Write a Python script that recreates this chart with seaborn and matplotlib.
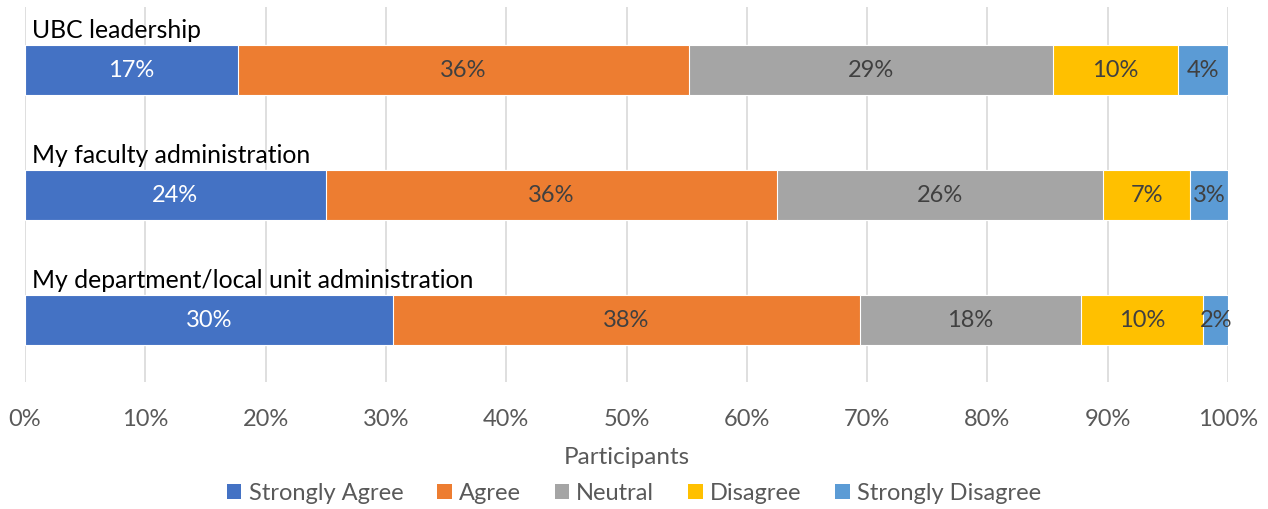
import matplotlib
matplotlib.use("Agg")
import matplotlib.pyplot as plt
from matplotlib.patches import Patch
import numpy as np
import pandas as pd
import seaborn as sns

# Survey responses (percent of participants, as reported)
groups = ["UBC leadership", "My faculty administration",
          "My department/local unit administration"]
responses = ["Strongly Agree", "Agree", "Neutral", "Disagree", "Strongly Disagree"]
strongly_agree = [17, 24, 30]
agree = [36, 36, 38]
neutral = [29, 26, 18]
disagree = [10, 7, 10]
strongly_disagree = [4, 3, 2]
tick_labels = ["0%", "10%", "20%", "30%", "40%", "50%", "60%", "70%", "80%", "90%", "100%"]

palette = ["#4472C4", "#ED7D31", "#A5A5A5", "#FFC000", "#5B9BD5"]
label_colors = ["white", "#404040", "#404040", "#404040", "#404040"]

values = np.array([strongly_agree, agree, neutral, disagree, strongly_disagree], dtype=float)
shares = values / values.sum(axis=0) * 100  # 100% stacked
cum = np.cumsum(shares, axis=0)

sns.set_theme(style="white")
plt.rcParams["font.family"] = ["Lato", "DejaVu Sans"]

fig = plt.figure(figsize=(12.68, 5.10), dpi=100)
ax = fig.add_axes([25 / 1268, 1 - 383 / 510, (1228 - 25) / 1268, (383 - 8) / 510])

# Stacked bars: draw cumulative totals from the outermost segment inward
for k in range(len(responses) - 1, -1, -1):
    df = pd.DataFrame({"group": groups, "total": cum[k]})
    sns.barplot(data=df, x="total", y="group", order=groups, orient="h",
                color=palette[k], saturation=1, width=0.4,
                edgecolor="white", linewidth=0.8, ax=ax, zorder=2)

# Segment value labels
for k in range(len(responses)):
    for i in range(len(groups)):
        left = cum[k, i] - shares[k, i]
        ax.text(left + shares[k, i] / 2, i, f"{int(values[k, i])}%",
                ha="center", va="center", fontsize=17, color=label_colors[k], zorder=3)

# Group titles above each bar
for i, g in enumerate(groups):
    ax.text(0.6, i - 0.32, g, ha="left", va="center", fontsize=17.8, color="black", zorder=3)

ax.set_xlim(0, 100)
ax.set_ylim(2.5, -0.5)
ax.set_xticks(np.arange(0, 101, 10))
ax.set_xticklabels(tick_labels, fontsize=17, color="#595959")
ax.set_yticks([])
ax.set_ylabel("")
ax.set_xlabel("Participants", fontsize=17.5, color="#595959", labelpad=12)
ax.tick_params(axis="x", length=0, pad=19)
ax.grid(axis="x", color="#D9D9D9", linewidth=1.2, zorder=0)
ax.set_axisbelow(True)
for s in ax.spines.values():
    s.set_visible(False)

handles = [Patch(facecolor=c, edgecolor="none") for c in palette]
fig.legend(handles, responses, loc="center", bbox_to_anchor=(0.5, 1 - 494 / 510),
           ncol=5, frameon=False, fontsize=17, handlelength=0.6, handleheight=0.6,
           handletextpad=0.3, columnspacing=1.45, labelcolor="#595959")

fig.savefig("out.png", dpi=100)
